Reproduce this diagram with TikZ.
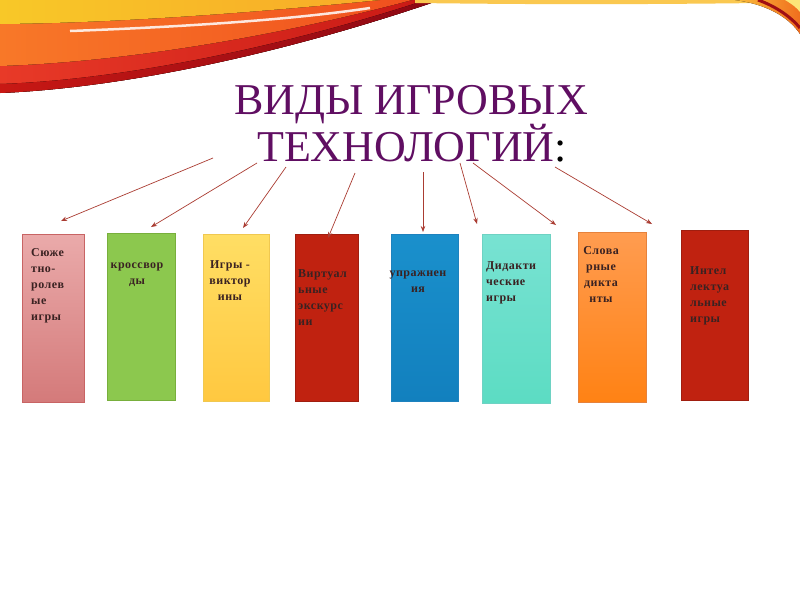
\documentclass[tikz,border=0pt]{standalone}
\usepackage{fontspec}
\setmainfont{Liberation Serif}
\newfontfamily\boxfont[LetterSpace=4]{Liberation Serif}
\usetikzlibrary{arrows.meta}
\definecolor{titlepurple}{RGB}{96,14,98}
\definecolor{boxtext}{RGB}{58,34,34}
\definecolor{arrowred}{RGB}{170,60,50}
\definecolor{swredL}{RGB}{232,58,40}
\definecolor{swredR}{RGB}{200,24,20}
\definecolor{swdark}{RGB}{140,8,20}
\definecolor{sworL}{RGB}{248,120,40}
\definecolor{sworR}{RGB}{240,80,30}
\definecolor{swyeL}{RGB}{248,200,40}
\definecolor{swyeR}{RGB}{248,170,40}
\definecolor{swthin}{RGB}{250,200,80}
\definecolor{swcL}{RGB}{250,190,60}
\definecolor{swcR}{RGB}{240,110,30}
\definecolor{swcdark}{RGB}{160,15,20}
\definecolor{swlight}{RGB}{252,230,120}
\definecolor{pinkD}{RGB}{200,100,100}
\definecolor{pinkT}{RGB}{234,170,170}
\definecolor{pinkB}{RGB}{212,122,122}
\definecolor{greenD}{RGB}{120,175,60}
\definecolor{greenF}{RGB}{140,200,78}
\definecolor{yelD}{RGB}{240,200,80}
\definecolor{yelT}{RGB}{255,222,100}
\definecolor{yelB}{RGB}{255,200,64}
\definecolor{redD}{RGB}{160,30,15}
\definecolor{redF}{RGB}{192,34,16}
\definecolor{bluD}{RGB}{30,130,190}
\definecolor{bluT}{RGB}{26,144,204}
\definecolor{bluB}{RGB}{18,128,190}
\definecolor{tealD}{RGB}{110,210,195}
\definecolor{tealT}{RGB}{120,226,210}
\definecolor{tealB}{RGB}{92,220,195}
\definecolor{oraD}{RGB}{230,130,60}
\definecolor{oraT}{RGB}{255,156,80}
\definecolor{oraB}{RGB}{255,130,20}
\tikzset{
  box/.style={draw=#1, line width=0.6pt, anchor=north west, inner sep=0pt},
  boxlabel/.style={font=\boxfont\bfseries\fontsize{12}{16}\selectfont, text=boxtext, inner sep=0pt, anchor=base},
  boxlabelL/.style={boxlabel, align=left, anchor=base west},
  boxlabelC/.style={boxlabel, align=center},
  conn/.style={draw=arrowred, line width=0.7pt, -{Stealth[length=6pt,width=4.5pt]}},
  titletext/.style={font=\fontsize{44}{49}\selectfont, text=titlepurple, inner sep=0pt, anchor=base}
}
\begin{document}
\begin{tikzpicture}[x=1pt,y=-1pt]
\useasboundingbox (0,0) rectangle (800,600);
\fill[white] (0,0) rectangle (800,600);
% top-left swoosh
\fill[left color=swredL, right color=swredR]
  (0,0) -- (0,93) .. controls (120,88) and (280,55) .. (440,0) -- cycle;
\fill[left color=swredR, right color=swdark]
  (0,93) .. controls (120,88) and (280,55) .. (440,0) -- (426,0) .. controls (280,48) and (120,80) .. (0,84) -- cycle;
\fill[left color=sworL, right color=sworR]
  (0,0) -- (0,66) .. controls (120,62) and (270,38) .. (412,0) -- cycle;
\fill[left color=swyeL, right color=swyeR]
  (0,0) -- (0,24) .. controls (120,23) and (260,12) .. (380,0) -- cycle;
\draw[white, line width=2.5pt, opacity=0.85]
  (70,31) .. controls (180,27) and (290,20) .. (370,8);
\fill[swthin] (415,0) -- (760,0) -- (760,3) .. controls (600,5) and (500,4) .. (415,3) -- cycle;
% top-right swoosh
\fill[left color=swcL, right color=swcR]
  (735,0) .. controls (765,4) and (788,16) .. (800,34) -- (800,0) -- cycle;
\draw[swcdark, line width=3pt]
  (758,0) .. controls (775,6) and (790,16) .. (800,28);
\fill[swlight] (785,0) .. controls (792,4) and (797,8) .. (800,12) -- (800,0) -- cycle;
% title
\node[titletext] (t1) at (411,114) {ВИДЫ ИГРОВЫХ};
\node[titletext] (t2) at (412,161) {ТЕХНОЛОГИЙ{\color{black}:}};
% boxes
\node[box=pinkD, top color=pinkT, bottom color=pinkB, minimum width=62pt, minimum height=168pt] (b1) at (22,234) {};
\node[box=greenD, fill=greenF, minimum width=68pt, minimum height=167pt] (b2) at (107,233) {};
\node[box=yelD, top color=yelT, bottom color=yelB, minimum width=66pt, minimum height=167pt] (b3) at (203,234) {};
\node[box=redD, fill=redF, minimum width=63pt, minimum height=167pt] (b4) at (295,234) {};
\node[box=bluD, top color=bluT, bottom color=bluB, minimum width=67pt, minimum height=167pt] (b5) at (391,234) {};
\node[box=tealD, top color=tealT, bottom color=tealB, minimum width=68pt, minimum height=169pt] (b6) at (482,234) {};
\node[box=oraD, top color=oraT, bottom color=oraB, minimum width=68pt, minimum height=170pt] (b7) at (578,232) {};
\node[box=redD, fill=redF, minimum width=67pt, minimum height=170pt] (b8) at (681,230) {};
% box labels (anchor = baseline of the last line)
\node[boxlabelL] (l1) at (31,320) {Сюже\\тно-\\ролев\\ые\\игры};
\node[boxlabelC] (l2) at (137,284) {кроссвор\\ды};
\node[boxlabelC] (l3) at (230,300) {Игры -\\виктор\\ины};
\node[boxlabelL] (l4) at (298,325) {Виртуал\\ьные\\экскурс\\ии};
\node[boxlabelC] (l5) at (418,292) {упражнен\\ия};
\node[boxlabelL] (l6) at (486,301) {Дидакти\\ческие\\игры};
\node[boxlabelC] (l7) at (601,302) {Слова\\рные\\дикта\\нты};
\node[boxlabelL] (l8) at (690,322) {Интел\\лектуа\\льные\\игры};
% connectors
\coordinate (s1) at (213,158); \coordinate (e1) at (61,221);
\coordinate (s2) at (257,163); \coordinate (e2) at (151,227);
\coordinate (s3) at (286,167); \coordinate (e3) at (243,228);
\coordinate (s4) at (355,173); \coordinate (e4) at (328,238);
\coordinate (s5) at (423,172); \coordinate (e5) at (423,232);
\coordinate (s6) at (460,163); \coordinate (e6) at (477,224);
\coordinate (s7) at (473,163); \coordinate (e7) at (556,225);
\coordinate (s8) at (555,167); \coordinate (e8) at (652,224);
\foreach \i in {1,...,8} { \draw[conn] (s\i) -- (e\i); }
\end{tikzpicture}
\end{document}
